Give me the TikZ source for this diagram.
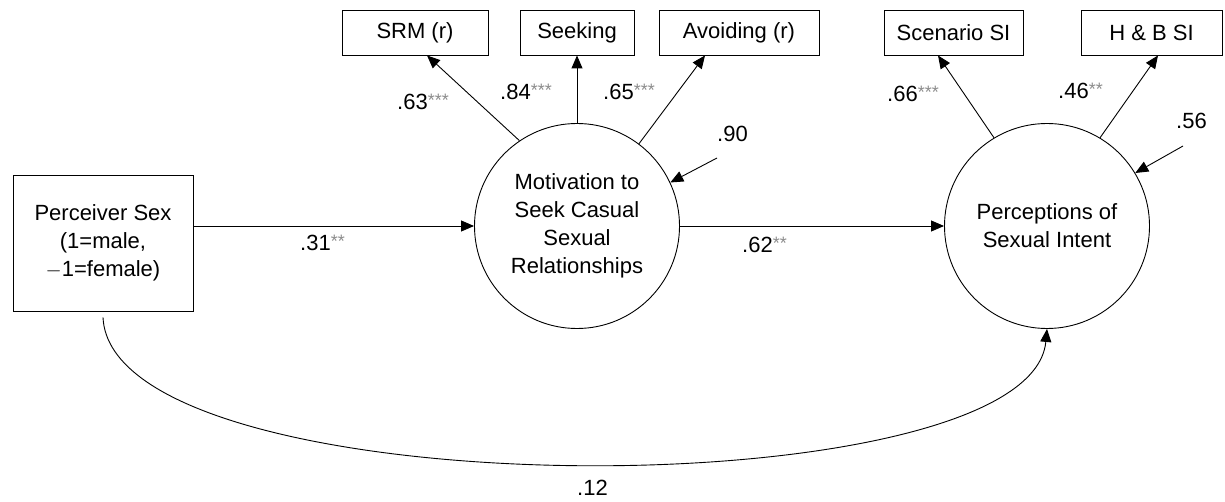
\documentclass[tikz,border=0pt]{standalone}
\usepackage{fontspec}
\setmainfont{Liberation Sans}
\usetikzlibrary{arrows.meta,calc}
\definecolor{stargray}{HTML}{8C8C8C}
\newcommand{\stars}[1]{\raisebox{3pt}{\fontsize{18}{18}\selectfont\color{stargray}#1}}
\begin{document}
\begin{tikzpicture}[x=1pt,y=-1pt,
  every node/.style={font=\fontsize{22}{28}\selectfont},
  obsbox/.style={draw,line width=0.9pt,minimum height=45pt,inner sep=0pt},
  latent/.style={draw,circle,line width=0.9pt,minimum size=205pt,inner sep=0pt,align=center},
  conn/.style={line width=0.9pt,-{Triangle[length=13pt,width=11pt]}},
  lbl/.style={anchor=base west,inner sep=0pt}]
\useasboundingbox (0,0) rectangle (1225,502);
% nodes
\node[draw,line width=0.9pt,minimum width=180pt,minimum height=136pt,inner sep=0pt,align=center] (ps) at (103,243) {Perceiver Sex\\(1=male,\\$-$1=female)};
\node[latent] (mot) at (577,226) {Motivation to\\Seek Casual\\Sexual\\Relationships};
\node[latent] (per) at (1047,226) {Perceptions of\\Sexual Intent};
\node[obsbox,minimum width=146pt] (srm) at (415,32.5) {SRM (r)};
\node[obsbox,minimum width=114pt] (seek) at (577,32.5) {Seeking};
\node[obsbox,minimum width=160pt] (avoid) at (739,32.5) {Avoiding (r)};
\node[obsbox,minimum width=139pt] (scen) at (953.5,32.5) {Scenario SI};
\node[obsbox,minimum width=141pt] (hb) at (1151.5,32.5) {H \& B SI};
\coordinate (d1) at (717,158);
\coordinate (d2) at (1183,146);
% connectors
\draw[conn] (mot.124) -- ($(srm.south)+(12,0)$);
\draw[conn] (mot.north) -- (seek.south);
\draw[conn] (mot.53) -- ($(avoid.south)+(-34,0)$);
\draw[conn] (per.121) -- ($(scen.south)+(-15.5,0)$);
\draw[conn] (per.59) -- ($(hb.south)+(6.5,0)$);
\draw[conn] (d1) -- (mot.25);
\draw[conn] (d2) -- (per.31);
\draw[conn] (ps.east |- mot.west) -- (mot.west);
\draw[conn] (mot.east) -- (per.west);
\draw[conn] ($(ps.south)+(0,6)$) .. controls (112,511) and (1030,511) .. (per.south);
% labels
\node[lbl] (l31) at (300,251) {.31\stars{**}};
\node[lbl] (l62) at (742,253) {.62\stars{**}};
\node[lbl] (l63) at (397,110) {.63\stars{***}};
\node[lbl] (l84) at (500,100) {.84\stars{***}};
\node[lbl] (l65) at (603,100) {.65\stars{***}};
\node[lbl] (l90) at (717,142) {.90};
\node[lbl] (l66) at (887,102) {.66\stars{***}};
\node[lbl] (l46) at (1058,99) {.46\stars{**}};
\node[lbl] (l56) at (1176,129) {.56};
\node[lbl] (l12) at (577,495) {.12};
\end{tikzpicture}
\end{document}
